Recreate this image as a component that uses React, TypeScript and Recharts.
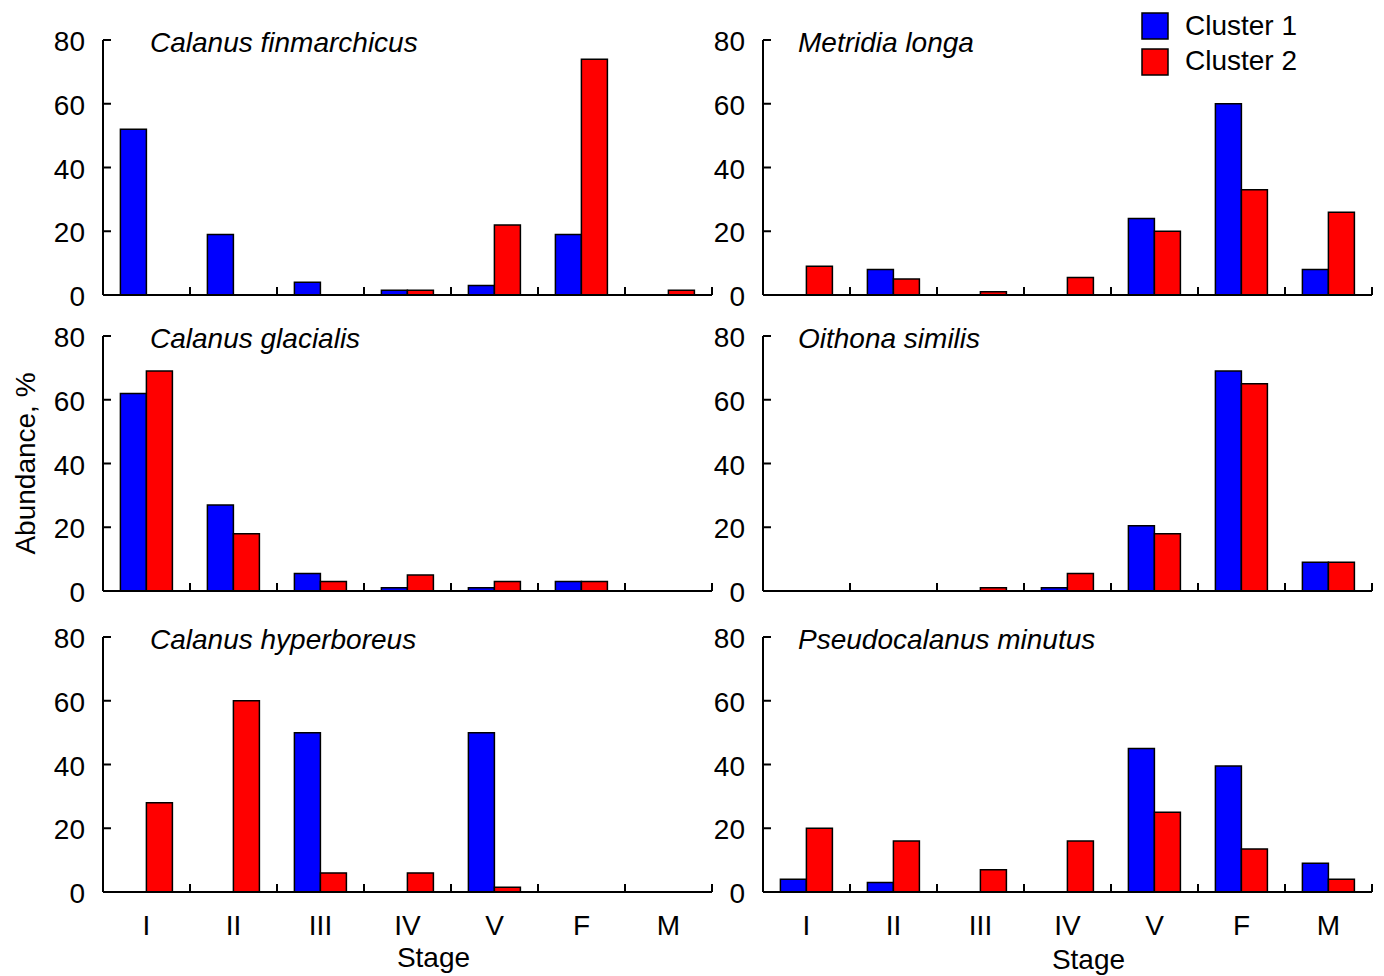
import { BarChart, Bar, XAxis, YAxis, Legend } from "recharts";

const stages = ["I", "II", "III", "IV", "V", "F", "M"];
const yTicks = [0, 20, 40, 60, 80];

// abundance, % per stage (Cluster 1 / Cluster 2)
const finmarchicus1 = [52, 19, 4, 1.5, 3, 19, 0];
const finmarchicus2 = [0, 0, 0, 1.5, 22, 74, 1.5];
const metridia1 = [0, 8, 0, 0, 24, 60, 8];
const metridia2 = [9, 5, 1, 5.5, 20, 33, 26];
const glacialis1 = [62, 27, 5.5, 1, 1, 3, 0];
const glacialis2 = [69, 18, 3, 5, 3, 3, 0];
const oithona1 = [0, 0, 0, 1, 20.5, 69, 9];
const oithona2 = [0, 0, 1, 5.5, 18, 65, 9];
const hyperboreus1 = [0, 0, 50, 0, 50, 0, 0];
const hyperboreus2 = [28, 60, 6, 6, 1.5, 0, 0];
const pseudocalanus1 = [4, 3, 0, 0, 45, 39.5, 9];
const pseudocalanus2 = [20, 16, 7, 16, 25, 13.5, 4];

const FONT = '"Liberation Sans", Arial, sans-serif';
const AXIS_W = 100;
const PLOT_W = 609;
const PLOT_H = 255;
const TOP = 40;
const RIGHT = 12;
const BAND = PLOT_W / stages.length;

const toRows = (c1: number[], c2: number[]) =>
  stages.map((stage, i) => ({ stage, c1: c1[i], c2: c2[i] }));

const YTick = (props: any) => {
  const { x, y, payload } = props;
  const ax = x + 18;
  return (
    <g>
      <line x1={ax} x2={ax + 8} y1={y} y2={y} stroke="#000" strokeWidth={2} />
      <text x={x} y={y + 11} textAnchor="end" fontSize={28} fontFamily={FONT} fill="#000">
        {payload.value}
      </text>
    </g>
  );
};

const makeXTick = (showLabel: boolean) => (props: any) => {
  const { x, y, payload } = props;
  const ay = y - 10;
  const bx = x + BAND / 2;
  return (
    <g>
      <line x1={bx} x2={bx} y1={ay} y2={ay - 8} stroke="#000" strokeWidth={2} />
      {showLabel && (
        <text x={x} y={ay + 43} textAnchor="middle" fontSize={28} fontFamily={FONT} fill="#000">
          {payload.value}
        </text>
      )}
    </g>
  );
};

const LegendBox = (props: any) => {
  const items = props.payload || [];
  return (
    <svg width={200} height={80}>
      {items.map((it: any, i: number) => (
        <g key={it.value}>
          <rect x={1} y={13 + i * 36} width={26} height={26} fill={it.color} stroke="#000" strokeWidth={1.5} />
          <text x={44} y={35 + i * 35} fontSize={28} fontFamily={FONT} fill="#000">
            {it.value}
          </text>
        </g>
      ))}
    </svg>
  );
};

type PanelProps = {
  title: string;
  c1: number[];
  c2: number[];
  left: number;
  top: number;
  titleDx: number;
  bottom?: boolean;
  stageDx?: number;
  stageDy?: number;
  legend?: boolean;
  yLabel?: boolean;
};

const Panel = ({ title, c1, c2, left, top, titleDx, bottom, stageDx = 0, stageDy = 0, legend, yLabel }: PanelProps) => {
  const xh = bottom ? 84 : 18;
  const axisY = TOP + PLOT_H;
  return (
    <div style={{ position: "absolute", left, top }}>
      <BarChart
        width={AXIS_W + PLOT_W + RIGHT}
        height={TOP + PLOT_H + xh}
        data={toRows(c1, c2)}
        margin={{ top: TOP, right: RIGHT, left: 0, bottom: 0 }}
        barCategoryGap="20%"
        barGap={0}
      >
        <XAxis
          dataKey="stage"
          interval={0}
          height={xh}
          tickSize={0}
          tickMargin={10}
          tickLine={false}
          tick={makeXTick(!!bottom)}
          axisLine={{ stroke: "#000", strokeWidth: 2 }}
        />
        <YAxis
          domain={[0, 80]}
          ticks={yTicks}
          interval={0}
          width={AXIS_W}
          tickSize={0}
          tickMargin={18}
          tickLine={false}
          tick={YTick}
          axisLine={{ stroke: "#000", strokeWidth: 2 }}
        />
        <Bar dataKey="c1" name="Cluster 1" fill="#0000ff" stroke="#000" strokeWidth={1.5} isAnimationActive={false} />
        <Bar dataKey="c2" name="Cluster 2" fill="#ff0000" stroke="#000" strokeWidth={1.5} isAnimationActive={false} />
        {legend && (
          <Legend
            verticalAlign="middle"
            align="center"
            content={LegendBox}
            wrapperStyle={{ position: "absolute", left: 1141 - 663, top: 0, width: 200 }}
          />
        )}
        <text x={AXIS_W + titleDx} y={TOP + 12} fontSize={28} fontStyle="italic" fontFamily={FONT} fill="#000">
          {title}
        </text>
        {bottom && (
          <text
            x={AXIS_W + PLOT_W / 2 + stageDx}
            y={axisY + 75 + stageDy}
            textAnchor="middle"
            fontSize={28}
            fontFamily={FONT}
            fill="#000"
          >
            Stage
          </text>
        )}
        {yLabel && (
          <text
            x={32}
            y={TOP + PLOT_H / 2}
            transform={`rotate(-90, 32, ${TOP + PLOT_H / 2})`}
            textAnchor="middle"
            fontSize={28}
            fontFamily={FONT}
            fill="#000"
          >
            Abundance, %
          </text>
        )}
      </BarChart>
    </div>
  );
};

export default function App() {
  return (
    <div style={{ position: "absolute", left: 0, top: 0, width: 1384, height: 976, background: "#fff", overflow: "hidden" }}>
      <Panel title="Calanus finmarchicus" c1={finmarchicus1} c2={finmarchicus2} left={3} top={0} titleDx={47} />
      <Panel title="Metridia longa" c1={metridia1} c2={metridia2} left={663} top={0} titleDx={35} legend />
      <Panel title="Calanus glacialis" c1={glacialis1} c2={glacialis2} left={3} top={296} titleDx={47} yLabel />
      <Panel title="Oithona similis" c1={oithona1} c2={oithona2} left={663} top={296} titleDx={35} />
      <Panel
        title="Calanus hyperboreus"
        c1={hyperboreus1}
        c2={hyperboreus2}
        left={3}
        top={597}
        titleDx={47}
        bottom
        stageDx={26}
        stageDy={0}
      />
      <Panel
        title="Pseudocalanus minutus"
        c1={pseudocalanus1}
        c2={pseudocalanus2}
        left={663}
        top={597}
        titleDx={35}
        bottom
        stageDx={21}
        stageDy={2}
      />
    </div>
  );
}
